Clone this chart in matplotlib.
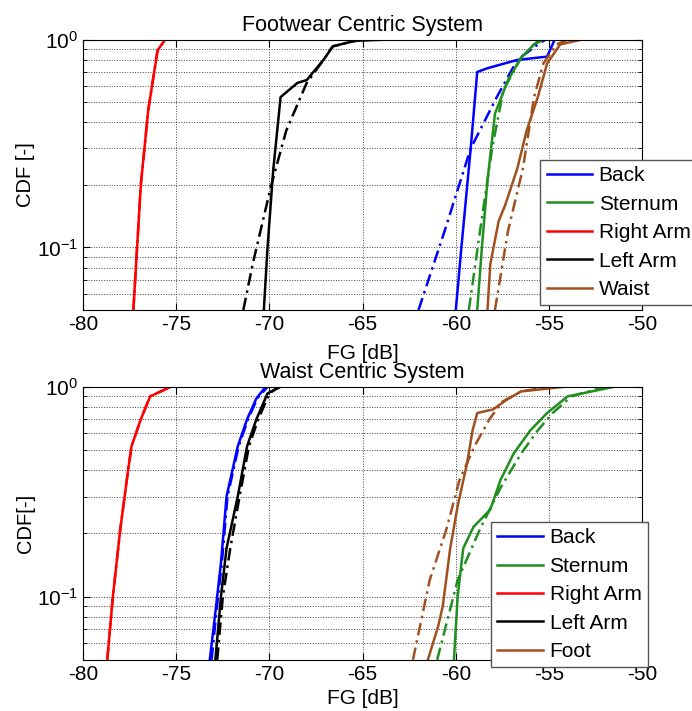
import matplotlib
matplotlib.use('Agg')
import matplotlib.pyplot as plt
from matplotlib.ticker import FixedLocator, NullFormatter

plt.rcParams['font.family'] = ['Liberation Sans', 'DejaVu Sans']
plt.rcParams['mathtext.fontset'] = 'custom'
plt.rcParams['mathtext.rm'] = 'Liberation Sans'
plt.rcParams['mathtext.it'] = 'Liberation Sans:italic'

# Footwear centric system: solid (x, cdf) and dashed (x, cdf)
fw_back_x = [-60.0, -59.7, -59.2, -58.85, -58.3, -56.7, -55.1, -54.7]
fw_back_p = [0.05, 0.10, 0.30, 0.70, 0.73, 0.80, 0.83, 1.0]
fw_back_dx = [-62.0, -60.6, -59.2, -57.8, -56.7, -55.6, -55.2]
fw_back_dp = [0.05, 0.12, 0.30, 0.53, 0.80, 0.95, 1.0]

fw_stern_x = [-58.85, -58.6, -58.3, -57.9, -57.2, -56.5, -55.8, -55.3]
fw_stern_p = [0.05, 0.10, 0.21, 0.44, 0.64, 0.82, 0.95, 1.0]
fw_stern_dx = [-59.3, -58.7, -58.05, -57.45, -56.5, -55.8, -55.5]
fw_stern_dp = [0.05, 0.12, 0.30, 0.57, 0.82, 0.95, 1.0]

fw_right_x = [-77.3, -77.1, -76.9, -76.5, -76.0, -75.6]
fw_right_p = [0.05, 0.10, 0.20, 0.46, 0.89, 1.0]
fw_right_dx = [-77.3, -77.1, -76.9, -76.5, -76.0, -75.6]
fw_right_dp = [0.05, 0.10, 0.20, 0.46, 0.89, 1.0]

fw_left_x = [-70.3, -70.1, -69.8, -69.4, -68.5, -68.0, -67.1, -66.6, -65.8, -65.3, -64.0]
fw_left_p = [0.05, 0.10, 0.234, 0.53, 0.62, 0.64, 0.80, 0.93, 0.97, 0.99, 1.0]
fw_left_dx = [-71.4, -70.9, -69.9, -69.1, -68.0, -67.1, -66.6, -65.8, -65.3]
fw_left_dp = [0.05, 0.083, 0.20, 0.365, 0.62, 0.80, 0.93, 0.97, 1.0]

fw_waist_x = [-58.3, -58.15, -57.7, -57.35, -56.7, -56.2, -55.6, -55.1, -54.4, -53.3]
fw_waist_p = [0.05, 0.083, 0.134, 0.16, 0.24, 0.365, 0.53, 0.77, 0.95, 1.0]
fw_waist_dx = [-57.9, -57.2, -56.4, -55.8, -55.3, -54.6, -54.0]
fw_waist_dp = [0.05, 0.12, 0.24, 0.53, 0.77, 0.95, 1.0]

# Waist centric system
wc_back_x = [-73.2, -72.9, -72.6, -72.3, -71.7, -71.2, -70.7, -70.2]
wc_back_p = [0.05, 0.084, 0.145, 0.30, 0.52, 0.70, 0.88, 1.0]
wc_back_dx = [-73.1, -72.85, -72.55, -72.25, -71.65, -71.15, -70.65, -70.1]
wc_back_dp = [0.05, 0.084, 0.145, 0.30, 0.52, 0.70, 0.88, 1.0]

wc_stern_x = [-60.1, -59.9, -59.6, -59.05, -58.15, -57.6, -56.9, -56.0, -55.1, -54.0, -51.5]
wc_stern_p = [0.05, 0.10, 0.17, 0.215, 0.26, 0.36, 0.48, 0.62, 0.75, 0.90, 1.0]
wc_stern_dx = [-61.0, -59.9, -58.7, -57.6, -56.5, -55.6, -54.8, -53.8, -52.0]
wc_stern_dp = [0.05, 0.12, 0.21, 0.33, 0.48, 0.62, 0.75, 0.90, 1.0]

wc_right_x = [-78.7, -78.4, -78.0, -77.6, -77.4, -76.9, -76.4, -75.3]
wc_right_p = [0.05, 0.10, 0.21, 0.39, 0.52, 0.70, 0.90, 1.0]
wc_right_dx = [-78.7, -78.4, -78.0, -77.6, -77.4, -76.9, -76.4, -75.3]
wc_right_dp = [0.05, 0.10, 0.21, 0.39, 0.52, 0.70, 0.90, 1.0]

wc_left_x = [-72.9, -72.6, -72.3, -71.7, -71.2, -70.7, -70.1, -69.4]
wc_left_p = [0.05, 0.10, 0.17, 0.30, 0.52, 0.70, 0.93, 1.0]
wc_left_dx = [-72.8, -72.5, -72.1, -71.6, -71.1, -70.6, -70.0, -69.5]
wc_left_dp = [0.05, 0.10, 0.17, 0.30, 0.52, 0.70, 0.93, 1.0]

wc_foot_x = [-61.5, -60.95, -60.7, -60.3, -59.9, -59.4, -59.1, -58.85, -58.0, -57.25, -56.5, -54.2]
wc_foot_p = [0.05, 0.072, 0.09, 0.17, 0.27, 0.43, 0.62, 0.75, 0.78, 0.87, 0.95, 1.0]
wc_foot_dx = [-62.3, -61.4, -60.5, -59.8, -59.0, -58.2, -57.5, -56.5, -55.0]
wc_foot_dp = [0.05, 0.12, 0.21, 0.36, 0.52, 0.70, 0.85, 0.95, 1.0]

blue = '#0000ff'
green = '#1f8f1f'
red = '#ff0000'
black = '#000000'
brown = '#a0501e'

xticks = [-80, -75, -70, -65, -60, -55, -50]

fig = plt.figure(figsize=(6.92, 7.11), dpi=100)
ax1 = fig.add_axes([0.12, 0.564, 0.808, 0.38])
ax2 = fig.add_axes([0.12, 0.072, 0.808, 0.384])

panels = [
    (ax1, 'Footwear Centric System', 'CDF [-]',
     [(fw_back_x, fw_back_p, fw_back_dx, fw_back_dp, blue, 'Back'),
      (fw_stern_x, fw_stern_p, fw_stern_dx, fw_stern_dp, green, 'Sternum'),
      (fw_right_x, fw_right_p, fw_right_dx, fw_right_dp, red, 'Right Arm'),
      (fw_left_x, fw_left_p, fw_left_dx, fw_left_dp, black, 'Left Arm'),
      (fw_waist_x, fw_waist_p, fw_waist_dx, fw_waist_dp, brown, 'Waist')],
     (0.818, 0.018), 7),
    (ax2, 'Waist Centric System', 'CDF[-]',
     [(wc_back_x, wc_back_p, wc_back_dx, wc_back_dp, blue, 'Back'),
      (wc_stern_x, wc_stern_p, wc_stern_dx, wc_stern_dp, green, 'Sternum'),
      (wc_right_x, wc_right_p, wc_right_dx, wc_right_dp, red, 'Right Arm'),
      (wc_left_x, wc_left_p, wc_left_dx, wc_left_dp, black, 'Left Arm'),
      (wc_foot_x, wc_foot_p, wc_foot_dx, wc_foot_dp, brown, 'Foot')],
     (0.73, -0.027), 4),
]

for ax, title, ylab, series, legpos, xpad in panels:
    handles = []
    for x, p, dx, dp, c, name in series:
        h, = ax.plot(x, p, color=c, lw=1.8, label=name)
        ax.plot(dx, dp, color=c, lw=1.8, ls=(0, (5, 2, 1, 2)))
        handles.append(h)
    ax.set_yscale('log')
    ax.set_xlim(-80, -50)
    ax.set_ylim(0.05, 1.0)
    ax.set_xticks(xticks)
    ax.set_xticklabels([str(t) for t in xticks])
    ax.yaxis.set_major_locator(FixedLocator([0.1, 1.0]))
    ax.set_yticklabels([r'$10^{-1}$', r'$10^{0}$'])
    ax.yaxis.set_minor_locator(FixedLocator([0.05, 0.06, 0.07, 0.08, 0.09, 0.2, 0.3, 0.4, 0.5, 0.6, 0.7, 0.8, 0.9]))
    ax.yaxis.set_minor_formatter(NullFormatter())
    ax.tick_params(which='both', direction='in', top=True, right=True, labelsize=15)
    ax.tick_params(which='major', length=5)
    ax.tick_params(which='minor', length=3)
    ax.grid(True, which='major', ls=':', color='#444444', lw=0.7)
    ax.grid(True, which='minor', axis='y', ls=':', color='#444444', lw=0.7)
    ax.set_title(title, fontsize=15.5, pad=6)
    ax.set_xlabel('FG [dB]', fontsize=15, labelpad=xpad)
    ax.set_ylabel(ylab, fontsize=14.5, labelpad=1)
    leg = ax.legend(handles=handles, loc='lower left', bbox_to_anchor=legpos,
                    fontsize=15, frameon=True, fancybox=False, framealpha=1,
                    edgecolor='#555555', handlelength=2.2, borderpad=0.3,
                    labelspacing=0.45, handletextpad=0.3, borderaxespad=0)
    leg.get_frame().set_linewidth(1.0)

fig.savefig('out.png', dpi=100)
